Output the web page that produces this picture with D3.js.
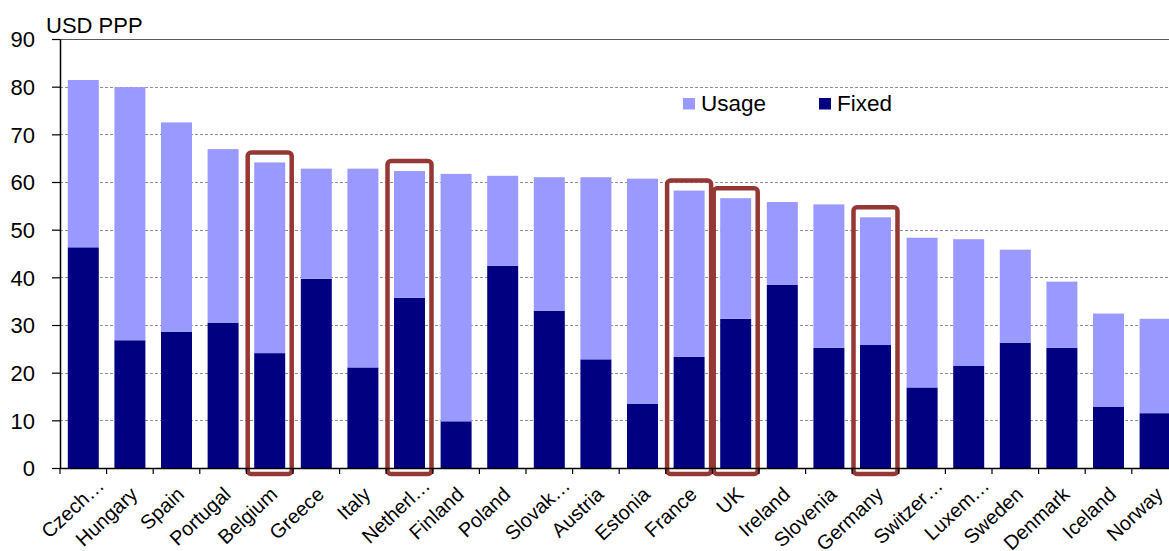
<!DOCTYPE html>
<html>
<head>
<meta charset="utf-8">
<script src="https://cdn.jsdelivr.net/npm/d3@7"></script>
<style>
  html, body { margin: 0; padding: 0; background: #fff; overflow: hidden; }
  svg { display: block; font-family: "Liberation Sans", Arial, sans-serif; }
</style>
</head>
<body>
<svg id="chart" width="1169" height="551"></svg>
<script>
const categories = ["Czech…", "Hungary", "Spain", "Portugal", "Belgium", "Greece", "Italy", "Netherl…", "Finland", "Poland", "Slovak…", "Austria", "Estonia", "France", "UK", "Ireland", "Slovenia", "Germany", "Switzer…", "Luxem…", "Sweden", "Denmark", "Iceland", "Norway"];
const fixedValues = [46.3, 26.8, 28.6, 30.5, 24.1, 39.7, 21.1, 35.7, 9.8, 42.4, 33.0, 22.8, 13.5, 23.3, 31.3, 38.4, 25.2, 25.8, 16.9, 21.4, 26.3, 25.2, 12.8, 11.5];
const totalValues = [81.4, 79.9, 72.5, 66.9, 64.1, 62.8, 62.8, 62.3, 61.7, 61.3, 61.0, 61.0, 60.7, 58.2, 56.6, 55.8, 55.3, 52.6, 48.3, 48.0, 45.8, 39.1, 32.4, 31.3];
const usageValues = totalValues.map((t, i) => +(t - fixedValues[i]).toFixed(1));
const highlighted = ["Belgium", "Netherl…", "France", "UK", "Germany"];
const yTicks = [0, 10, 20, 30, 40, 50, 60, 70, 80, 90];
const seriesNames = ["Usage", "Fixed"];

const colors = { Usage: "#9999FF", Fixed: "#000080" };

const svg = d3.select("#chart");
const plotLeft = 60, plotTop = 39, plotBottom = 468;
const step = 46.6;
const plotRight = plotLeft + step * categories.length;

const x = d3.scaleBand().domain(categories).range([plotLeft, plotRight]).paddingInner(0.335).paddingOuter(0.1675);
const y = d3.scaleLinear().domain([0, 90]).range([plotBottom, plotTop]);

// gridlines
svg.append("g").selectAll("line").data(yTicks.filter(t => t > 0 && t < 90)).join("line")
  .attr("x1", plotLeft).attr("x2", 1169)
  .attr("y1", d => Math.round(y(d)) + 0.5).attr("y2", d => Math.round(y(d)) + 0.5)
  .attr("stroke", "#909090").attr("stroke-width", 1).attr("stroke-dasharray", "3,2");

// top border
svg.append("line").attr("x1", plotLeft).attr("x2", 1169)
  .attr("y1", Math.round(y(90)) + 0.5).attr("y2", Math.round(y(90)) + 0.5)
  .attr("stroke", "#5a5a5a").attr("stroke-width", 1.2);

// bars
const stackData = categories.map((c, i) => ({ cat: c, Fixed: fixedValues[i], Usage: usageValues[i] }));
const stack = d3.stack().keys(["Fixed", "Usage"])(stackData);
svg.append("g").selectAll("g").data(stack).join("g")
  .attr("fill", d => colors[d.key])
  .selectAll("rect").data(d => d).join("rect")
  .attr("x", d => x(d.data.cat))
  .attr("width", x.bandwidth())
  .attr("y", d => y(d[1]))
  .attr("height", d => y(d[0]) - y(d[1]));

// highlight boxes
svg.append("g").selectAll("rect").data(highlighted).join("rect")
  .attr("x", c => x(c) - 6.5)
  .attr("width", x.bandwidth() + 13)
  .attr("y", c => y(totalValues[categories.indexOf(c)]) - 10)
  .attr("height", c => y(0) + 6 - (y(totalValues[categories.indexOf(c)]) - 10))
  .attr("rx", 3.5).attr("ry", 3.5)
  .attr("fill", "none").attr("stroke", "#953735").attr("stroke-width", 4.5);

// y axis
const yAxis = d3.axisLeft(y).tickValues(yTicks).tickSize(8).tickPadding(17).tickSizeOuter(0);
const gy = svg.append("g").attr("transform", `translate(${plotLeft},0)`).call(yAxis);
gy.select(".domain").attr("stroke", "#000").attr("stroke-width", 1.5);
gy.selectAll(".tick line").attr("stroke", "#000").attr("stroke-width", 1.2);
gy.selectAll(".tick text").attr("font-size", 22).attr("fill", "#000")
  .attr("font-family", "Liberation Sans, Arial, sans-serif").attr("dy", "0.35em");

// x axis
const xTickScale = d3.scaleLinear().domain([0, categories.length]).range([plotLeft, plotRight]);
const gx = svg.append("g");
gx.append("line").attr("x1", plotLeft).attr("x2", 1169).attr("y1", plotBottom + 0.5).attr("y2", plotBottom + 0.5)
  .attr("stroke", "#000").attr("stroke-width", 1.5);
gx.selectAll("line.tk").data(d3.range(categories.length + 1)).join("line").attr("class", "tk")
  .attr("x1", i => xTickScale(i)).attr("x2", i => xTickScale(i))
  .attr("y1", plotBottom).attr("y2", plotBottom + 6)
  .attr("stroke", "#000").attr("stroke-width", 1.2);
gx.selectAll("text").data(categories).join("text")
  .attr("transform", c => {
    const cx = x(c) + x.bandwidth() / 2;
    const trunc = c.endsWith("…");
    return `translate(${cx + (trunc ? 22 : 9)},${plotBottom + (trunc ? 19 : 28)}) rotate(-43)`;
  })
  .attr("text-anchor", "end")
  .attr("font-size", 20)
  .attr("fill", "#000")
  .text(c => c);

// unit label
svg.append("text").attr("x", 46).attr("y", 33).attr("font-size", 22).attr("fill", "#000").text("USD PPP");

// legend
const legend = svg.append("g");
const legendPos = [{ name: "Usage", x: 683 }, { name: "Fixed", x: 819 }];
legendPos.forEach(p => {
  legend.append("rect").attr("x", p.x).attr("y", 98).attr("width", 12).attr("height", 11.5).attr("fill", colors[p.name]);
  legend.append("text").attr("x", p.x + 18).attr("y", 110.5).attr("font-size", 22.5).attr("fill", "#000").text(p.name);
});
</script>
</body>
</html>
